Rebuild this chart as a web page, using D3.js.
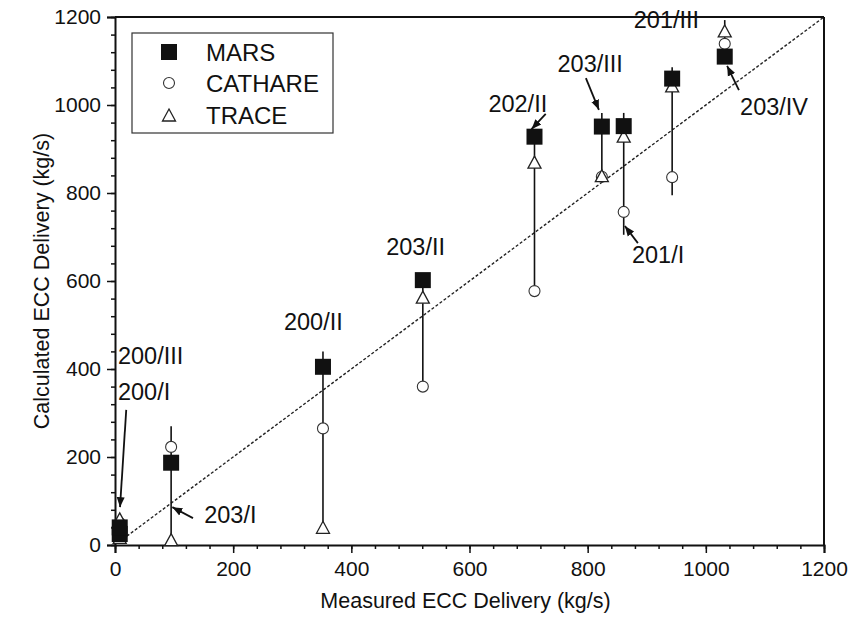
<!DOCTYPE html>
<html><head><meta charset="utf-8">
<script src="https://cdn.jsdelivr.net/npm/d3@7"></script>
<style>body{margin:0;background:#fff}svg{display:block}text{font-family:"Liberation Sans",Arial,sans-serif;fill:#111}</style>
</head><body><svg id="c" width="850" height="629"></svg>
<script>
const labels   = ["200/I","200/III","203/I","200/II","203/II","202/II","203/III","201/I","201/III","203/IV"];
const measured = [8, 8, 95, 352, 521, 710, 824, 861, 943, 1032];
const mars     = [25, 40, 187, 405, 602, 928, 951, 952, 1060, 1110];
const cathare  = [20, 50, 223, 265, 360, 577, 837, 757, 836, 1139];
const trace    = [15, 57, 10, 38, 561, 868, 837, 927, 1041, 1166];
const rangeLo  = [15, 25, 10, 38, 360, 577, 837, 705, 795, 1110];
const rangeHi  = [40, 57, 270, 440, 602, 945, 982, 982, 1086, 1193];
const xTicks = [0, 200, 400, 600, 800, 1000, 1200];
const yTicks = [0, 200, 400, 600, 800, 1000, 1200];
const seriesNames = ["MARS", "CATHARE", "TRACE"];
// annotation label anchors (data coords) and arrows (data coords)
const annLabels = ["200/III","200/I","203/I","200/II","203/II","202/II","203/III","201/III","203/IV","201/I"];
const annX = [5, 5, 151, 286, 459, 632, 749, 878, 1058, 875];
const annY = [411, 330, 50, 489, 659, 984, 1075, 1175, 977, 641];
const arrows = [
  [19, 307, 8.5, 86],
  [132, 61, 97, 86],
  [797, 1061, 819, 989],
  [729, 980, 705, 945],
  [885, 686, 863, 725],
  [1056, 1034, 1036, 1089]
];

const svg = d3.select("#c");
const L = 115, R = 824, T = 17, B = 545;
const x = d3.scaleLinear().domain([0, 1200]).range([L, R]);
const y = d3.scaleLinear().domain([0, 1200]).range([B, T]);

svg.append("defs").append("marker").attr("id","ah").attr("viewBox","0 0 10 10")
  .attr("refX",10).attr("refY",5).attr("markerWidth",10).attr("markerHeight",10)
  .attr("markerUnits","userSpaceOnUse").attr("orient","auto")
  .append("path").attr("d","M0,1 L10,5 L0,9 Z").attr("fill","#111");

// frame
svg.append("line").attr("x1",L).attr("x2",R).attr("y1",T).attr("y2",T).attr("stroke","#111").attr("stroke-width",2);
svg.append("line").attr("x1",R).attr("x2",R).attr("y1",T).attr("y2",B).attr("stroke","#111").attr("stroke-width",2);

const minor = d3.range(0, 1201, 40);
const gx = svg.append("g").attr("transform",`translate(0,${B})`);
gx.call(d3.axisBottom(x).tickValues(minor).tickSize(4).tickFormat(""));
gx.call(g=>g.selectAll(".domain").remove());
const gx2 = svg.append("g").attr("transform",`translate(0,${B})`)
  .call(d3.axisBottom(x).tickValues(xTicks).tickSize(8).tickPadding(8).tickFormat(d3.format("d")));
gx2.selectAll("text").attr("font-size",21).attr("fill","#111");
const gy = svg.append("g").attr("transform",`translate(${L},0)`);
gy.call(d3.axisLeft(y).tickValues(minor).tickSize(4).tickFormat(""));
gy.call(g=>g.selectAll(".domain").remove());
const gy2 = svg.append("g").attr("transform",`translate(${L},0)`)
  .call(d3.axisLeft(y).tickValues(yTicks).tickSize(8).tickPadding(6).tickFormat(d3.format("d")));
gy2.selectAll("text").attr("font-size",21).attr("fill","#111");
svg.selectAll(".domain").attr("stroke","#111").attr("stroke-width",2);
svg.selectAll(".tick line").attr("stroke","#111").attr("stroke-width",1.5);

// axis titles
svg.append("text").attr("x",(L+R)/2-4).attr("y",608).attr("text-anchor","middle").attr("font-size",21.5).text("Measured ECC Delivery (kg/s)");
svg.append("text").attr("transform",`translate(49,${(T+B)/2}) rotate(-90)`).attr("text-anchor","middle").attr("font-size",21.5).text("Calculated ECC Delivery (kg/s)");

// diagonal
svg.append("line").attr("x1",x(20)).attr("y1",y(20)).attr("x2",x(1200)).attr("y2",y(1200))
  .attr("stroke","#222").attr("stroke-width",1.4).attr("stroke-dasharray","3,2");

// range lines
const idx = d3.range(labels.length);
svg.append("g").selectAll("line").data(idx).join("line")
  .attr("x1",i=>x(measured[i])).attr("x2",i=>x(measured[i]))
  .attr("y1",i=>y(rangeLo[i])).attr("y2",i=>y(rangeHi[i]))
  .attr("stroke","#111").attr("stroke-width",1.6);

function tri(cx, cy){ return `M${cx},${cy-7} L${cx+6.5},${cy+5} L${cx-6.5},${cy+5} Z`; }
// markers: circles, triangles, squares
svg.append("g").selectAll("circle").data(idx).join("circle")
  .attr("cx",i=>x(measured[i])).attr("cy",i=>y(cathare[i])).attr("r",5.5)
  .attr("fill","#fff").attr("stroke","#333").attr("stroke-width",1.1);
svg.append("g").selectAll("path").data(idx).join("path")
  .attr("d",i=>tri(x(measured[i]), y(trace[i])))
  .attr("fill","#fff").attr("stroke","#222").attr("stroke-width",1.3);
svg.append("g").selectAll("rect").data(idx).join("rect")
  .attr("x",i=>x(measured[i])-8).attr("y",i=>y(mars[i])-8).attr("width",16).attr("height",16)
  .attr("fill","#111");

// annotations
svg.append("g").selectAll("text").data(annLabels).join("text")
  .attr("x",(d,i)=>x(annX[i])).attr("y",(d,i)=>y(annY[i])).attr("font-size",23.5).text(d=>d);
svg.append("g").selectAll("line").data(arrows).join("line")
  .attr("x1",a=>x(a[0])).attr("y1",a=>y(a[1])).attr("x2",a=>x(a[2])).attr("y2",a=>y(a[3]))
  .attr("stroke","#111").attr("stroke-width",1.8).attr("marker-end","url(#ah)");

// legend
const lg = svg.append("g");
lg.append("rect").attr("x",132).attr("y",33).attr("width",201).attr("height",100)
  .attr("fill","#fff").attr("stroke","#333").attr("stroke-width",1.2);
const ly = [52, 83, 115];
lg.append("rect").attr("x",169-8).attr("y",ly[0]-8).attr("width",16).attr("height",16).attr("fill","#111");
lg.append("circle").attr("cx",169).attr("cy",ly[1]).attr("r",5.5).attr("fill","#fff").attr("stroke","#333").attr("stroke-width",1.1);
lg.append("path").attr("d",tri(169, ly[2]+1)).attr("fill","#fff").attr("stroke","#222").attr("stroke-width",1.3);
lg.selectAll("text.l").data(seriesNames).join("text").attr("class","l")
  .attr("x",206).attr("y",(d,i)=>ly[i]+9).attr("font-size",24).text(d=>d);
</script></body></html>
